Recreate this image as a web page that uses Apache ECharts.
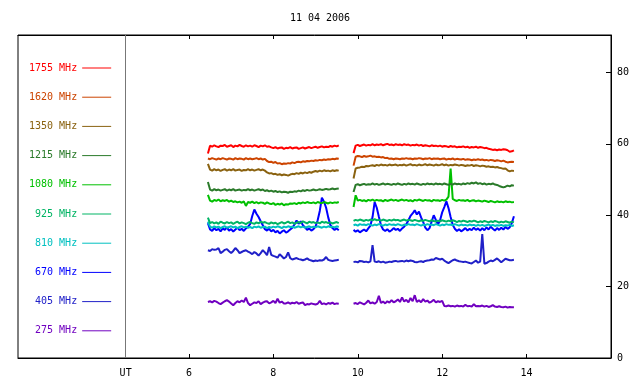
<!DOCTYPE html>
<html><head><meta charset="utf-8">
<script src="https://cdn.jsdelivr.net/npm/echarts@6/dist/echarts.min.js"></script>
<style>html,body{margin:0;padding:0;background:#fff}#c{width:640px;height:384px}</style>
</head><body><div id="c"></div>
<script>
const title = '11 04 2006';
const xTickValues = [6, 8, 10, 12, 14];
const utPosition = 4.5;
const yLabelValues = [0, 20, 40, 60, 80];
const yTickValues = [20, 40, 60, 80];
const gapHour = 9.7;

const hours1 = [6.45,6.50,6.55,6.60,6.65,6.70,6.75,6.80,6.85,6.90,
6.95,7.00,7.05,7.10,7.15,7.20,7.25,7.30,7.35,7.40,
7.45,7.50,7.55,7.60,7.65,7.70,7.75,7.80,7.85,7.90,
7.95,8.00,8.05,8.10,8.15,8.20,8.25,8.30,8.35,8.40,
8.45,8.50,8.55,8.60,8.65,8.70,8.75,8.80,8.85,8.90,
8.95,9.00,9.05,9.10,9.15,9.20,9.25,9.30,9.35,9.40,
9.45,9.50,9.55];
const hours2 = [9.90,9.95,10.00,10.05,10.10,10.15,10.20,10.25,10.30,10.35,
10.40,10.45,10.50,10.55,10.60,10.65,10.70,10.75,10.80,10.85,
10.90,10.95,11.00,11.05,11.10,11.15,11.20,11.25,11.30,11.35,
11.40,11.45,11.50,11.55,11.60,11.65,11.70,11.75,11.80,11.85,
11.90,11.95,12.00,12.05,12.10,12.15,12.20,12.25,12.30,12.35,
12.40,12.45,12.50,12.55,12.60,12.65,12.70,12.75,12.80,12.85,
12.90,12.95,13.00,13.05,13.10,13.15,13.20,13.25,13.30,13.35,
13.40,13.45,13.50,13.55,13.60,13.65,13.70];

const f1755a = [57.3,59.5,59.2,59.6,59.3,59.1,59.5,59.4,59.7,59.2,
59.4,59.6,59.1,59.5,59.3,59.7,59.4,59.2,59.6,59.3,
59.5,59.2,59.6,59.4,59.1,59.5,59.3,59.6,59.2,59.3,
59.0,58.8,59.1,58.7,58.9,59.0,58.6,58.9,58.8,59.1,
58.7,58.9,59.0,58.6,58.8,59.0,58.7,58.9,59.1,58.8,
59.0,59.2,58.9,59.1,59.3,59.0,59.2,59.1,59.4,59.2,
59.5,59.3,59.6];
const f1755b = [57.4,59.5,59.7,59.4,59.6,59.8,59.5,59.7,59.6,59.9,
59.6,59.8,59.7,59.9,59.6,59.8,60.0,59.7,59.8,59.6,
59.9,59.7,59.8,59.6,59.9,59.7,59.8,59.5,59.7,59.6,
59.8,59.5,59.7,59.4,59.6,59.5,59.3,59.6,59.4,59.5,
59.3,59.5,59.2,59.4,59.3,59.1,59.4,59.2,59.3,59.0,
59.2,59.1,59.3,59.0,59.2,58.9,59.1,59.0,59.2,58.9,
59.1,59.0,58.8,58.9,58.6,58.5,58.3,58.4,58.2,58.4,
58.3,58.5,58.4,58.2,57.8,57.9,58.2];

const f1620a = [55.9,55.7,56.0,55.8,55.6,55.9,55.7,56.0,55.8,55.6,
55.9,55.8,55.6,56.0,55.7,55.9,55.8,55.6,56.0,55.7,
55.9,55.7,55.8,56.0,55.7,55.9,55.6,55.8,55.2,54.9,
55.0,54.7,54.9,54.5,54.6,54.3,54.5,54.4,54.6,54.5,
54.8,54.6,54.9,55.0,54.8,55.1,55.0,55.2,55.1,55.3,
55.2,55.4,55.3,55.5,55.4,55.6,55.5,55.7,55.6,55.8,
55.7,55.9,55.8];
const f1620b = [53.9,56.4,56.6,56.5,56.3,56.6,56.4,56.5,56.7,56.4,
56.5,56.3,56.4,56.2,56.3,56.0,56.1,55.8,55.9,55.7,
55.9,55.8,55.7,55.9,55.8,56.0,55.8,55.9,55.7,55.9,
55.8,56.0,55.9,55.7,55.9,55.8,56.0,55.7,55.9,55.8,
55.9,55.7,55.8,55.9,55.6,55.8,55.7,55.9,55.6,55.8,
55.7,55.6,55.8,55.5,55.7,55.6,55.4,55.6,55.5,55.7,
55.5,55.6,55.4,55.5,55.3,55.5,55.4,55.2,55.4,55.3,
55.1,55.3,55.0,54.8,54.9,55.0,54.9];

const f1350a = [54.4,52.8,52.5,52.9,52.6,52.8,52.4,52.7,52.9,52.5,
52.8,52.6,52.9,52.5,52.7,52.8,52.4,52.7,52.6,52.9,
52.6,52.8,52.5,52.7,52.9,52.6,52.8,52.5,52.0,51.7,
51.8,51.5,51.6,51.3,51.5,51.2,51.4,51.3,51.1,51.4,
51.6,51.5,51.8,51.6,51.9,51.7,52.0,51.8,52.1,51.9,
52.2,52.4,52.2,52.5,52.3,52.6,52.4,52.5,52.3,52.6,
52.4,52.6,52.5];
const f1350b = [50.3,53.1,53.3,53.4,53.6,53.5,53.8,53.7,53.9,54.0,
53.8,54.1,53.9,54.2,54.0,54.1,53.9,54.2,54.0,54.1,
54.2,53.9,54.1,54.0,54.2,53.9,54.1,54.3,54.0,54.1,
53.9,54.2,54.0,54.1,54.3,54.0,54.2,54.1,53.9,54.2,
54.0,54.1,54.3,54.0,54.2,53.9,54.1,54.0,54.2,54.1,
53.9,54.1,54.0,53.8,54.0,53.9,54.1,53.8,54.0,53.9,
53.7,53.9,53.8,53.6,53.7,53.5,53.6,53.4,53.5,53.3,
53.2,53.0,53.1,52.6,52.3,52.5,52.4];

const f1215a = [49.3,47.2,46.9,47.3,47.0,47.2,46.9,47.1,47.3,46.9,
47.2,47.0,47.3,46.9,47.1,47.2,46.9,47.1,47.0,47.3,
47.0,47.2,46.9,47.1,47.3,47.0,47.2,46.8,47.0,46.7,
46.9,46.6,46.8,46.5,46.7,46.4,46.6,46.5,46.3,46.6,
46.5,46.7,46.6,46.9,46.7,47.0,46.8,47.1,46.9,47.0,
47.2,47.0,47.1,47.3,47.1,47.2,47.4,47.2,47.3,47.5,
47.3,47.4,47.5];
const f1215b = [46.5,48.5,48.7,48.4,48.6,48.8,48.5,48.7,48.6,48.9,
48.6,48.8,48.5,48.7,48.9,48.6,48.8,48.7,48.5,48.8,
48.6,48.9,48.7,48.5,48.8,48.6,48.9,48.7,48.8,48.6,
48.9,48.7,48.5,48.8,48.6,48.9,48.7,48.8,48.6,48.9,
48.7,48.8,48.6,48.9,48.7,48.5,48.8,48.6,48.9,48.7,
48.8,48.6,48.9,48.7,49.0,48.8,49.1,48.9,49.2,48.8,
49.0,48.7,48.9,48.6,48.8,48.7,48.9,48.6,48.5,48.2,
48.0,47.8,48.0,48.3,48.1,48.4,48.3];

const f1080a = [45.7,44.1,43.8,44.3,44.0,44.4,43.9,44.2,44.0,44.3,
43.8,44.1,43.7,43.9,43.6,43.8,43.5,43.9,42.6,43.7,
43.5,43.8,43.4,43.7,43.3,43.6,43.5,43.2,43.6,43.3,
43.1,43.4,42.9,43.2,43.0,43.3,42.8,43.1,43.0,43.3,
43.2,43.4,43.1,43.5,43.3,43.6,43.4,43.7,43.5,43.4,
43.6,43.3,43.7,43.5,43.4,43.7,43.5,43.3,43.6,43.4,
43.6,43.5,43.7];
const f1080b = [42.3,45.6,44.1,44.3,44.0,44.2,43.9,44.3,44.1,44.4,
44.0,44.3,44.1,44.2,43.9,44.3,44.0,44.2,44.4,44.1,
44.3,44.0,44.2,44.4,44.1,44.3,44.0,44.2,43.9,44.3,
44.1,44.4,44.2,44.0,44.3,44.1,44.2,43.9,44.3,44.1,
44.2,44.0,44.3,44.1,44.4,45.2,53.1,44.6,44.2,44.0,
44.3,44.1,44.2,44.0,44.3,43.9,44.1,44.2,43.9,44.1,
44.0,43.8,44.1,43.9,43.7,44.0,43.8,43.6,43.9,43.7,
43.8,43.6,43.9,43.7,43.8,43.6,43.7];

const f925a = [39.3,37.8,38.1,37.7,38.0,37.6,38.2,37.9,37.7,38.1,
37.8,38.0,37.6,37.9,38.2,37.7,38.0,37.8,37.5,37.9,
38.1,37.8,37.6,38.0,37.7,38.2,37.9,38.1,37.8,37.6,
38.0,37.7,37.9,37.5,37.8,38.1,37.7,37.9,38.2,37.8,
38.0,37.6,37.9,38.1,37.8,38.3,38.0,37.7,38.2,37.9,
38.1,37.8,38.0,37.7,38.2,37.9,38.1,37.8,38.0,37.7,
37.9,38.1,37.8];
const f925b = [38.4,38.7,38.5,38.8,38.6,38.4,38.7,38.5,38.8,38.6,
38.9,38.6,38.7,38.5,38.8,38.6,38.4,38.7,38.5,38.8,
38.6,38.7,38.4,38.6,38.8,38.5,38.7,38.6,38.4,38.7,
38.5,38.3,38.6,38.4,38.7,38.5,38.3,38.6,38.4,38.2,
38.5,38.3,38.6,38.4,38.2,38.5,38.3,38.6,38.4,38.1,
38.4,38.2,38.5,38.3,38.1,38.4,38.2,38.5,38.3,38.0,
38.3,38.1,38.4,38.2,38.0,38.3,38.1,38.4,38.2,37.9,
38.2,38.0,38.3,38.1,37.9,38.2,38.0];

const f810a = [38.2,36.8,36.5,36.9,36.6,36.8,36.4,36.7,36.9,36.5,
36.7,36.9,36.6,36.8,36.4,36.7,36.9,36.6,36.8,36.5,
36.7,36.4,36.8,36.6,36.9,36.5,36.7,36.8,36.4,36.7,
36.5,36.8,36.6,36.9,36.7,36.4,36.8,36.6,36.9,36.7,
36.8,36.5,36.7,36.9,36.6,36.8,36.5,36.7,36.9,36.6,
36.8,36.6,36.9,36.7,36.5,36.8,36.6,36.9,36.7,36.8,
36.6,36.9,36.7];
const f810b = [37.2,37.4,37.1,37.5,37.3,37.4,37.2,37.5,37.3,37.1,
37.4,37.2,37.5,37.3,37.1,37.4,37.2,37.5,37.3,37.4,
37.2,37.5,37.3,37.1,37.4,37.2,37.5,37.3,37.4,37.2,
37.5,37.3,37.1,37.4,37.2,37.5,37.3,37.4,37.2,37.5,
37.3,37.1,37.4,37.2,37.5,37.3,37.4,37.2,37.5,37.3,
37.1,37.4,37.2,37.3,37.1,37.4,37.2,37.3,37.0,37.3,
37.1,37.3,37.0,37.2,37.4,37.1,37.3,37.0,37.2,37.1,
37.3,37.0,37.2,37.1,37.3,37.0,37.2];

const f670a = [37.8,36.0,35.6,36.4,35.8,36.2,35.5,36.3,35.9,36.6,
35.7,36.1,35.4,36.0,36.5,35.8,36.2,35.6,36.3,36.8,
37.5,39.8,41.6,40.4,39.5,38.3,37.2,36.1,35.7,36.2,
35.5,35.9,35.2,35.6,34.9,35.4,35.8,35.1,35.5,36.0,
36.5,37.4,38.5,37.6,38.3,37.2,36.6,35.9,36.3,35.7,
36.1,36.9,38.6,41.2,44.9,43.8,42.1,39.4,37.3,36.4,
35.9,36.3,35.8];
const f670b = [35.9,35.4,35.8,35.2,35.6,36.0,35.5,36.3,37.1,39.5,
43.7,42.1,39.6,37.2,36.0,35.6,36.1,35.4,35.8,36.4,
35.9,36.2,35.6,36.3,36.8,37.5,38.6,39.8,40.5,41.4,
40.2,41.0,39.4,38.1,36.5,35.8,36.4,38.2,40.0,38.7,
37.4,38.6,40.8,42.3,43.9,42.0,39.5,37.3,36.2,35.6,
36.1,35.5,35.9,36.4,35.7,36.2,35.8,36.5,35.9,36.3,
35.7,36.4,35.8,36.6,36.0,36.8,36.2,35.7,36.4,35.9,
36.5,36.0,36.7,36.2,36.6,37.8,39.7];

const f405a = [30.2,30.0,30.5,30.3,30.4,30.8,29.4,29.8,30.3,30.5,
29.9,29.4,30.0,30.8,30.2,29.4,29.7,30.0,30.2,29.8,
29.5,29.1,29.7,29.3,28.7,29.4,30.2,29.6,28.8,31.1,
28.9,28.6,28.4,28.1,29.1,28.5,27.9,28.3,29.6,28.0,
27.6,27.8,28.0,27.7,27.6,27.4,27.6,27.9,27.5,27.3,
27.1,27.3,27.2,27.4,27.3,27.6,28.3,27.5,27.3,27.2,
27.3,27.4,27.5];
const f405b = [26.9,27.0,26.8,27.2,27.1,26.9,27.0,26.8,27.1,31.6,
27.0,26.9,27.1,26.8,27.0,26.7,26.8,27.0,26.9,27.1,
27.2,27.0,27.1,27.2,27.0,27.3,27.1,27.3,27.2,26.9,
26.8,27.0,27.1,26.9,27.2,27.3,27.4,27.6,27.5,28.0,
27.8,27.6,27.8,27.3,26.9,26.6,27.0,27.4,27.6,27.3,
27.1,27.0,26.9,27.0,26.8,26.6,26.5,26.9,27.3,26.7,
27.0,34.7,26.4,26.6,27.0,27.3,27.1,27.5,27.9,27.4,
26.8,27.3,27.8,27.6,27.4,27.4,27.5];

const f275a = [15.7,15.9,15.6,16.0,15.8,15.4,15.1,15.5,15.9,16.2,
15.8,15.3,14.8,15.4,15.9,15.6,16.1,15.7,16.9,15.4,
14.8,15.2,15.6,15.4,15.9,15.1,15.5,15.8,15.9,15.3,
15.6,16.0,15.4,16.6,15.5,15.8,15.3,15.3,15.6,15.2,
15.5,15.3,15.7,15.2,15.4,15.6,14.8,15.1,15.0,15.3,
15.1,15.0,15.2,16.0,15.1,15.3,15.0,15.4,15.2,15.5,
15.1,15.3,15.2];
const f275b = [15.2,15.4,15.1,15.6,15.3,15.0,15.5,16.1,15.3,15.6,
15.2,15.7,17.4,15.4,15.8,15.3,15.9,15.5,16.2,15.6,
15.9,16.4,15.7,17.0,15.8,16.3,15.6,16.8,15.9,17.6,
15.7,16.2,15.6,16.5,15.8,16.1,15.5,15.8,16.3,15.6,
15.9,15.7,16.0,14.6,14.5,14.7,14.5,14.6,14.4,14.7,
14.5,14.6,14.4,14.9,14.5,14.6,14.4,15.1,14.5,14.6,
14.5,14.7,14.4,14.6,14.3,14.5,14.8,14.4,14.3,14.5,
14.3,14.2,14.4,14.1,14.3,14.2,14.2];

const channels = [
  {name: '1755 MHz', color: '#ff0000', a: f1755a, b: f1755b},
  {name: '1620 MHz', color: '#cc4400', a: f1620a, b: f1620b},
  {name: '1350 MHz', color: '#8a6210', a: f1350a, b: f1350b},
  {name: '1215 MHz', color: '#2a7a2a', a: f1215a, b: f1215b},
  {name: '1080 MHz', color: '#00c000', a: f1080a, b: f1080b},
  {name: '925 MHz', color: '#00b464', a: f925a, b: f925b},
  {name: '810 MHz', color: '#00c0c0', a: f810a, b: f810b},
  {name: '670 MHz', color: '#0000ff', a: f670a, b: f670b},
  {name: '405 MHz', color: '#2020c8', a: f405a, b: f405b},
  {name: '275 MHz', color: '#7000c0', a: f275a, b: f275b}
];

const font = 'DejaVu Sans Mono';
const chart = echarts.init(document.getElementById('c'), null, {renderer: 'canvas'});

const series = channels.map((ch, k) => {
  const data = ch.a.map((v, i) => [hours1[i], v])
    .concat([[gapHour, '-']])
    .concat(ch.b.map((v, i) => [hours2[i], v]));
  const s = {
    name: ch.name, type: 'line', data: data, symbol: 'none', showSymbol: false,
    connectNulls: false, lineStyle: {color: ch.color, width: 2}, itemStyle: {color: ch.color},
    z: 10 - k, silent: true
  };
  if (k === 0) {
    s.markLine = {
      silent: true, symbol: 'none', label: {show: false},
      lineStyle: {color: '#777777', type: 'solid', width: 1},
      data: [{xAxis: utPosition}]
    };
  }
  return s;
});

chart.setOption({
  animation: false,
  backgroundColor: '#ffffff',
  title: {text: title, left: 'center', top: 8,
    textStyle: {fontFamily: font, fontSize: 10, fontWeight: 'normal', color: '#000'}},
  legend: {
    orient: 'vertical', align: 'right', left: 29, top: 61, padding: 0,
    icon: 'rect', itemWidth: 29, itemHeight: 1, itemGap: 15.2,
    selectedMode: false,
    textStyle: {fontFamily: font, fontSize: 10, lineHeight: 14},
    data: channels.map(ch => ({name: ch.name, textStyle: {color: ch.color}}))
  },
  grid: {left: 18, right: 29, top: 35, bottom: 26, show: true, borderColor: '#000', borderWidth: 1, backgroundColor: 'transparent'},
  xAxis: [
    {type: 'value', min: 1.95, max: 16, position: 'bottom',
      axisLine: {show: true, onZero: false, lineStyle: {color: '#000', width: 1}},
      axisTick: {show: true, inside: true, length: 4, customValues: xTickValues, lineStyle: {color: '#000'}},
      axisLabel: {show: true, customValues: [utPosition].concat(xTickValues), margin: 10,
        formatter: v => (v === utPosition ? 'UT' : String(v)),
        fontFamily: font, fontSize: 10, color: '#000'},
      splitLine: {show: false}},
    {type: 'value', min: 1.95, max: 16, position: 'top',
      axisLine: {show: true, onZero: false, lineStyle: {color: '#000', width: 1}},
      axisTick: {show: true, inside: true, length: 4, customValues: xTickValues, lineStyle: {color: '#000'}},
      axisLabel: {show: false}, splitLine: {show: false}}
  ],
  yAxis: {type: 'value', min: 0, max: 90.5, position: 'right',
    axisLine: {show: true, onZero: false, lineStyle: {color: '#000', width: 1}},
    axisTick: {show: true, inside: true, length: 5, customValues: yTickValues, lineStyle: {color: '#000'}},
    axisLabel: {show: true, customValues: yLabelValues, margin: 6, fontFamily: font, fontSize: 10, color: '#000'},
    splitLine: {show: false}},
  series: series
});
</script></body></html>
